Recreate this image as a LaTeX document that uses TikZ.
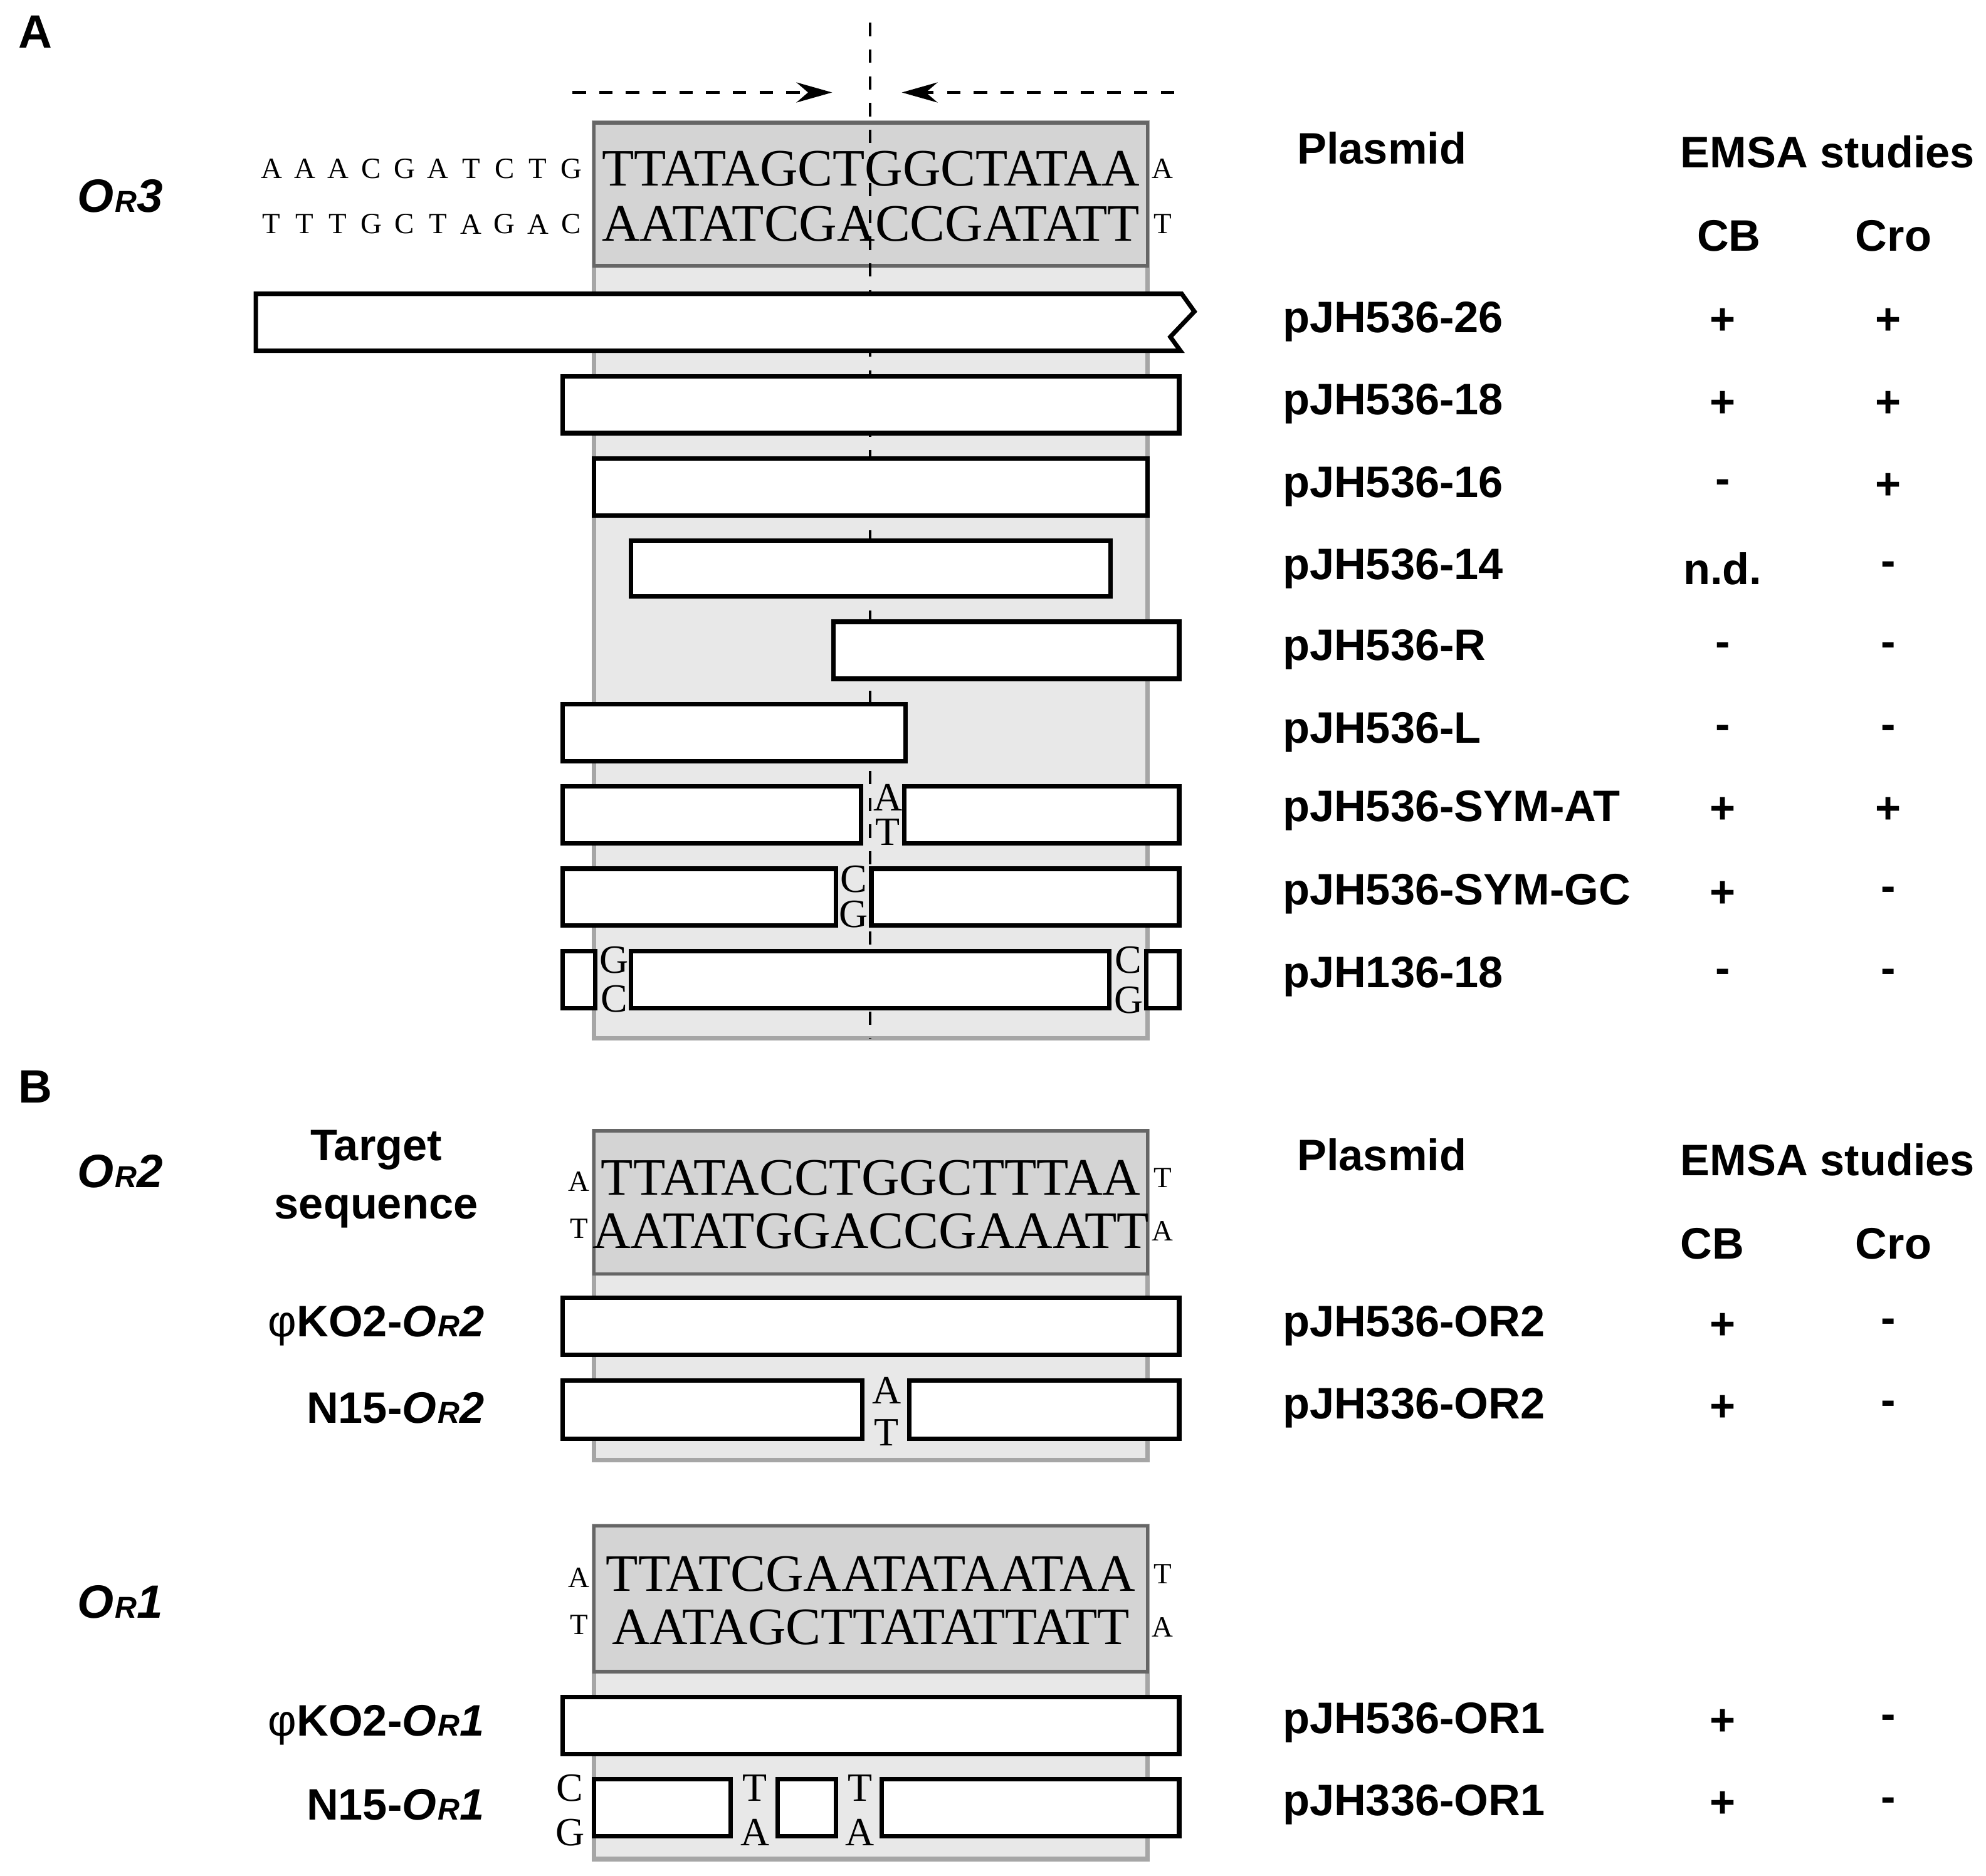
\documentclass[tikz,border=0pt]{standalone}
\usepackage{fontspec}
\setmainfont{Liberation Serif}
\setsansfont{Liberation Sans}
\usetikzlibrary{arrows.meta}
\newcommand\orsub[1]{\textbf{\textit{O\kern0.3pt{\fontsize{6.8}{7}\selectfont R}#1}}}
\newcommand\phig{{\mdseries φ}}
\begin{document}
\begin{tikzpicture}[x=0.01cm,y=-0.01cm,
  lab/.style={font=\sffamily\bfseries\fontsize{9.9}{11}\selectfont, inner sep=0pt},
  plas/.style={lab, anchor=west},
  seq/.style={font=\fontsize{11.8}{13}\selectfont, inner sep=0pt},
  sm/.style={font=\fontsize{6.6}{7}\selectfont, inner sep=0pt},
  base/.style={font=\fontsize{9}{10}\selectfont, inner sep=0pt},
  bar/.style={draw=black, line width=1pt, fill=white},
  light/.style={draw=black!35, line width=1pt, fill=black!9},
  dark/.style={draw=black!60, line width=0.8pt, fill=black!17}]
\useasboundingbox (0,0) rectangle (1568,1481);

% ---------- panel A ----------
\node[lab, font=\sffamily\bfseries\fontsize{10.5}{11}\selectfont] (pA) at (28,25) {A};
\draw[light] (469,97) rectangle (906,820);
\draw[dark] (469,97) rectangle (906,210);
\draw[dashed, line width=0.6pt] (687,18) -- (687,820);
\coordinate (a1s) at (452,73); \coordinate (a1e) at (657,73);
\coordinate (a2s) at (927,73); \coordinate (a2e) at (712,73);
\draw[dashed, line width=0.8pt, -{Stealth[length=8pt,width=4.5pt]}] (a1s) -- (a1e);
\draw[dashed, line width=0.8pt, -{Stealth[length=8pt,width=4.5pt]}] (a2s) -- (a2e);

\node[seq] (s3t) at (687.5,133) {TTATAGCTGGCTATAA};
\node[seq] (s3b) at (687.5,177) {AATATCGACCGATATT};
\foreach \c [count=\i] in {A,A,A,C,G,A,T,C,T,G}
  \node[sm] (l3t\i) at (188+26.3*\i,133) {\c};
\foreach \c [count=\i] in {T,T,T,G,C,T,A,G,A,C}
  \node[sm] (l3b\i) at (188+26.3*\i,177) {\c};
\node[sm] (r3t) at (918,133) {A};
\node[sm] (r3b) at (918,177) {T};
\node[lab, font=\sffamily\fontsize{10.5}{11}\selectfont] (or3) at (95,155) {\orsub{3}};

\node[lab] (hpa) at (1091,117) {Plasmid};
\node[lab] (hea) at (1443,120) {EMSA studies};
\node[lab] (hcba) at (1365,186) {CB};
\node[lab] (hcra) at (1495,186) {Cro};

% bars
\draw[bar] (202,232) -- (933,232) -- (943,246) -- (924,266) -- (932,277) -- (202,277) -- cycle;
\draw[bar] (444,297) rectangle (931,342);
\draw[bar] (469,362) rectangle (906,407);
\draw[bar] (498,427) rectangle (877,471);
\draw[bar] (658,491) rectangle (931,536);
\draw[bar] (444,556) rectangle (715,601);
\draw[bar] (444,621) rectangle (680,666);
\draw[bar] (714,621) rectangle (931,666);
\node[base] (atA) at (701,630) {A};
\node[base] (atT) at (701,657) {T};
\draw[bar] (444,686) rectangle (660,731);
\draw[bar] (688,686) rectangle (931,731);
\node[base] (gcC) at (674,694) {C};
\node[base] (gcG) at (674,722) {G};
\draw[bar] (444,751) rectangle (470,796);
\draw[bar] (498,751) rectangle (876,796);
\draw[bar] (905,751) rectangle (931,796);
\node[base] (m1G) at (485,758) {G};
\node[base] (m1C) at (485,789) {C};
\node[base] (m2C) at (891,758) {C};
\node[base] (m2G) at (891,790) {G};

\foreach \n/\y/\cb/\cro in {26/254/+/+, 18/319/+/+, 16/384/-/+, 14/449/n.d./-, R/513/-/-, L/578/-/-, SYM-AT/640/+/+, SYM-GC/706/+/-}{
  \node[plas] (p\n) at (1012,\y) {pJH536-\n};
  \node[lab] (cb\n) at (1360,\y) {\cb};
  \node[lab] (cr\n) at (1491,\y) {\cro};
}
\node[plas] (p136) at (1012,771) {pJH136-18};
\node[lab] (cb136) at (1360,771) {-};
\node[lab] (cr136) at (1491,771) {-};

% ---------- panel B ----------
\node[lab, font=\sffamily\bfseries\fontsize{10.5}{11}\selectfont] (pB) at (28,858) {B};
\draw[light] (469,893) rectangle (906,1153);
\draw[dark] (469,893) rectangle (906,1006);
\node[seq] (s2t) at (687.5,930) {TTATACCTGGCTTTAA};
\node[seq] (s2b) at (687.5,972) {AATATGGACCGAAATT};
\node[sm] (l2t) at (457,933) {A};
\node[sm] (l2b) at (457,970) {T};
\node[sm] (r2t) at (918,930) {T};
\node[sm] (r2b) at (918,972) {A};
\node[lab, font=\sffamily\fontsize{10.5}{11}\selectfont] (or2) at (95,925) {\orsub{2}};
\node[lab, align=center] (tgt) at (297,931) {Target\\[2pt]sequence};
\node[lab] (hpb) at (1091,912) {Plasmid};
\node[lab] (heb) at (1443,916) {EMSA studies};
\node[lab] (hcbb) at (1352,982) {CB};
\node[lab] (hcrb) at (1495,982) {Cro};

\draw[bar] (444,1025) rectangle (931,1070);
\draw[bar] (444,1090) rectangle (681,1136);
\draw[bar] (718,1090) rectangle (931,1136);
\node[base] (n2A) at (700,1098) {A};
\node[base] (n2T) at (700,1131) {T};
\node[lab, anchor=east] (k2) at (383,1047) {\phig KO2-\orsub{2}};
\node[lab, anchor=east] (n2) at (383,1112) {N15-\orsub{2}};
\node[plas] (pOR2a) at (1012,1047) {pJH536-OR2};
\node[plas] (pOR2b) at (1012,1112) {pJH336-OR2};
\node[lab] (c2a) at (1360,1047) {+};
\node[lab] (d2a) at (1491,1047) {-};
\node[lab] (c2b) at (1360,1112) {+};
\node[lab] (d2b) at (1491,1112) {-};

\draw[light] (469,1205) rectangle (906,1468);
\draw[dark] (469,1205) rectangle (906,1320);
\node[seq] (s1t) at (687.5,1243) {TTATCGAATATAATAA};
\node[seq] (s1b) at (687.5,1285) {AATAGCTTATATTATT};
\node[sm] (l1t) at (457,1246) {A};
\node[sm] (l1b) at (457,1283) {T};
\node[sm] (r1t) at (918,1243) {T};
\node[sm] (r1b) at (918,1285) {A};
\node[lab, font=\sffamily\fontsize{10.5}{11}\selectfont] (or1) at (95,1265) {\orsub{1}};

\draw[bar] (444,1340) rectangle (931,1385);
\draw[bar] (469,1405) rectangle (577,1450);
\draw[bar] (614,1405) rectangle (660,1450);
\draw[bar] (696,1405) rectangle (931,1450);
\node[base] (n1C) at (450,1412) {C};
\node[base] (n1G) at (450,1447) {G};
\node[base] (n1T1) at (596,1412) {T};
\node[base] (n1A1) at (596,1447) {A};
\node[base] (n1T2) at (679,1412) {T};
\node[base] (n1A2) at (679,1447) {A};
\node[lab, anchor=east] (k1) at (383,1362) {\phig KO2-\orsub{1}};
\node[lab, anchor=east] (n1) at (383,1425) {N15-\orsub{1}};
\node[plas] (pOR1a) at (1012,1360) {pJH536-OR1};
\node[plas] (pOR1b) at (1012,1425) {pJH336-OR1};
\node[lab] (c1a) at (1360,1360) {+};
\node[lab] (d1a) at (1491,1360) {-};
\node[lab] (c1b) at (1360,1425) {+};
\node[lab] (d1b) at (1491,1425) {-};
\end{tikzpicture}
\end{document}
